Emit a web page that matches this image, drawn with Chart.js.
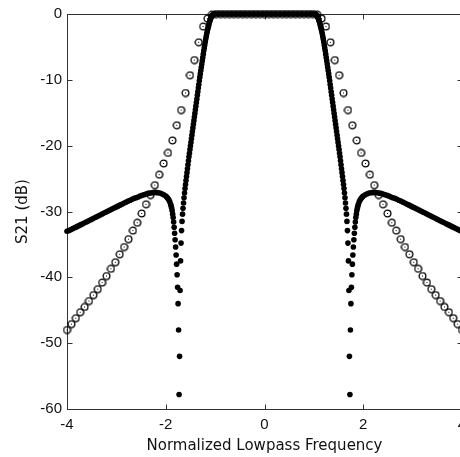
<!DOCTYPE html>
<html>
<head>
<meta charset="utf-8">
<script src="https://cdn.jsdelivr.net/npm/chart.js@4/dist/chart.umd.min.js"></script>
<style>
  html, body { margin: 0; padding: 0; background: #fff; overflow: hidden; }
  #wrap { width: 480px; height: 457px; }
</style>
</head>
<body>
<div id="wrap"><canvas id="c" width="480" height="457"></canvas></div>
<script>
// Prototype response (open circles), sampled on a coarse grid
const freqProto = [
  -4.000, -3.911, -3.822, -3.733, -3.644, -3.556, -3.467, -3.378, -3.289, -3.200,
  -3.111, -3.022, -2.933, -2.844, -2.756, -2.667, -2.578, -2.489, -2.400, -2.311,
  -2.222, -2.133, -2.044, -1.956, -1.867, -1.778, -1.689, -1.600, -1.511, -1.422,
  -1.333, -1.244, -1.156, -1.067, -0.978, -0.889, -0.800, -0.711, -0.622, -0.533,
  -0.444, -0.356, -0.267, -0.178, -0.089, 0.000,
  0.089, 0.178, 0.267, 0.356, 0.444, 0.533, 0.622, 0.711, 0.800, 0.889,
  0.978, 1.067, 1.156, 1.244, 1.333, 1.422, 1.511, 1.600, 1.689, 1.778,
  1.867, 1.956, 2.044, 2.133, 2.222, 2.311, 2.400, 2.489, 2.578, 2.667,
  2.756, 2.844, 2.933, 3.022, 3.111, 3.200, 3.289, 3.378, 3.467, 3.556,
  3.644, 3.733, 3.822, 3.911, 4.000
];
const s21Proto = [
  -48.0, -47.1, -46.2, -45.3, -44.5, -43.6, -42.7, -41.8, -40.8, -39.8,
  -38.7, -37.7, -36.5, -35.4, -34.2, -32.9, -31.7, -30.3, -28.9, -27.5,
  -26.0, -24.4, -22.7, -21.1, -19.2, -16.9, -14.6, -12.0, -9.3, -7.0,
  -4.3, -1.9, -0.7, -0.1, 0, 0, 0, 0, 0, 0,
  0, 0, 0, 0, 0, 0,
  0, 0, 0, 0, 0, 0, 0, 0, 0, 0,
  0, -0.1, -0.7, -1.9, -4.3, -7.0, -9.3, -12.0, -14.6, -16.9,
  -19.2, -21.1, -22.7, -24.4, -26.0, -27.5, -28.9, -30.3, -31.7, -32.9,
  -34.2, -35.4, -36.5, -37.7, -38.7, -39.8, -40.8, -41.8, -42.7, -43.6,
  -44.5, -45.3, -46.2, -47.1, -48.0
];

// Filter with transmission zeros (small filled dots), finer grid on the skirts
const freqFilter = [
  -4.00, -3.96, -3.92, -3.88, -3.84, -3.80, -3.76, -3.72, -3.68, -3.64,
  -3.60, -3.56, -3.52, -3.48, -3.44, -3.40, -3.36, -3.32, -3.28, -3.24,
  -3.20, -3.16, -3.12, -3.08, -3.04, -3.00, -2.96, -2.92, -2.88, -2.84,
  -2.80, -2.76, -2.72, -2.68, -2.64, -2.60, -2.56, -2.52, -2.48, -2.44,
  -2.40, -2.36, -2.32, -2.28, -2.24, -2.20, -2.16, -2.12, -2.08, -2.04,
  -2.00, -1.98, -1.96, -1.94, -1.92,
  -1.90, -1.89, -1.88, -1.87, -1.86, -1.85, -1.84, -1.83, -1.82, -1.81,
  -1.80, -1.79, -1.78, -1.77, -1.76, -1.75, -1.74, -1.73, -1.72, -1.71,
  -1.70, -1.69, -1.68, -1.67, -1.66, -1.65, -1.64, -1.63, -1.62, -1.61,
  -1.60, -1.59, -1.58, -1.57, -1.56, -1.55, -1.54, -1.53, -1.52, -1.51,
  -1.50, -1.49, -1.48, -1.47, -1.46, -1.45, -1.44, -1.43, -1.42, -1.41,
  -1.40, -1.39, -1.38, -1.37, -1.36, -1.35, -1.34, -1.33, -1.32, -1.31,
  -1.30, -1.29, -1.28, -1.27, -1.26, -1.25, -1.24, -1.23, -1.22, -1.21,
  -1.20, -1.19, -1.18, -1.17, -1.16, -1.15, -1.14, -1.13, -1.12, -1.11,
  -1.10, -1.09, -1.08, -1.07, -1.06, -1.05, -1.04, -1.03, -1.02, -1.01,
  -1.00,
  -0.96, -0.92, -0.88, -0.84, -0.80, -0.76, -0.72, -0.68, -0.64, -0.60,
  -0.56, -0.52, -0.48, -0.44, -0.40, -0.36, -0.32, -0.28, -0.24, -0.20,
  -0.16, -0.12, -0.08, -0.04, 0.00,
  0.04, 0.08, 0.12, 0.16, 0.20, 0.24, 0.28, 0.32, 0.36, 0.40,
  0.44, 0.48, 0.52, 0.56, 0.60, 0.64, 0.68, 0.72, 0.76, 0.80,
  0.84, 0.88, 0.92, 0.96,
  1.00, 1.01, 1.02, 1.03, 1.04, 1.05, 1.06, 1.07, 1.08, 1.09,
  1.10, 1.11, 1.12, 1.13, 1.14, 1.15, 1.16, 1.17, 1.18, 1.19,
  1.20, 1.21, 1.22, 1.23, 1.24, 1.25, 1.26, 1.27, 1.28, 1.29,
  1.30, 1.31, 1.32, 1.33, 1.34, 1.35, 1.36, 1.37, 1.38, 1.39,
  1.40, 1.41, 1.42, 1.43, 1.44, 1.45, 1.46, 1.47, 1.48, 1.49,
  1.50, 1.51, 1.52, 1.53, 1.54, 1.55, 1.56, 1.57, 1.58, 1.59,
  1.60, 1.61, 1.62, 1.63, 1.64, 1.65, 1.66, 1.67, 1.68, 1.69,
  1.70, 1.71, 1.72, 1.73, 1.74, 1.75, 1.76, 1.77, 1.78, 1.79,
  1.80, 1.81, 1.82, 1.83, 1.84, 1.85, 1.86, 1.87, 1.88, 1.89,
  1.90,
  1.92, 1.94, 1.96, 1.98, 2.00,
  2.04, 2.08, 2.12, 2.16, 2.20, 2.24, 2.28, 2.32, 2.36, 2.40,
  2.44, 2.48, 2.52, 2.56, 2.60, 2.64, 2.68, 2.72, 2.76, 2.80,
  2.84, 2.88, 2.92, 2.96, 3.00, 3.04, 3.08, 3.12, 3.16, 3.20,
  3.24, 3.28, 3.32, 3.36, 3.40, 3.44, 3.48, 3.52, 3.56, 3.60,
  3.64, 3.68, 3.72, 3.76, 3.80, 3.84, 3.88, 3.92, 3.96, 4.00
];
const s21Filter = [
  -33.0, -32.9, -32.75, -32.6, -32.45, -32.3, -32.15, -32.0, -31.85, -31.7,
  -31.55, -31.4, -31.25, -31.1, -30.95, -30.8, -30.65, -30.5, -30.35, -30.2,
  -30.05, -29.9, -29.75, -29.6, -29.45, -29.3, -29.15, -29.0, -28.85, -28.7,
  -28.55, -28.4, -28.3, -28.15, -28.0, -27.9, -27.8, -27.65, -27.55, -27.45,
  -27.35, -27.25, -27.2, -27.15, -27.1, -27.1, -27.15, -27.2, -27.3, -27.45,
  -27.65, -27.8, -28.0, -28.2, -28.5,
  -28.9, -29.2, -29.5, -29.9, -30.4, -30.9, -31.6, -32.4, -33.3, -34.3,
  -35.4, -36.6, -38.0, -39.6, -41.5, -44.0, -48.0, -57.8, -52.0, -42.0,
  -37.5, -34.8, -32.9, -31.5, -30.4, -29.5, -28.7, -27.9, -27.2, -26.5,
  -25.9, -25.3, -24.7, -24.1, -23.5, -22.9, -22.3, -21.7, -21.15, -20.6,
  -20.05, -19.5, -18.95, -18.4, -17.85, -17.3, -16.75, -16.2, -15.65, -15.1,
  -14.55, -14.0, -13.45, -12.9, -12.35, -11.8, -11.25, -10.7, -10.15, -9.6,
  -9.1, -8.6, -8.1, -7.6, -7.1, -6.6, -6.1, -5.6, -5.15, -4.7,
  -4.25, -3.8, -3.4, -3.0, -2.65, -2.3, -2.0, -1.7, -1.4, -1.15,
  -0.9, -0.7, -0.5, -0.35, -0.25, -0.15, -0.1, -0.05, 0, 0,
  0,
  0, 0, 0, 0, 0, 0, 0, 0, 0, 0,
  0, 0, 0, 0, 0, 0, 0, 0, 0, 0,
  0, 0, 0, 0, 0,
  0, 0, 0, 0, 0, 0, 0, 0, 0, 0,
  0, 0, 0, 0, 0, 0, 0, 0, 0, 0,
  0, 0, 0, 0,
  0, 0, 0, -0.05, -0.1, -0.15, -0.25, -0.35, -0.5, -0.7,
  -0.9, -1.15, -1.4, -1.7, -2.0, -2.3, -2.65, -3.0, -3.4, -3.8,
  -4.25, -4.7, -5.15, -5.6, -6.1, -6.6, -7.1, -7.6, -8.1, -8.6,
  -9.1, -9.6, -10.15, -10.7, -11.25, -11.8, -12.35, -12.9, -13.45, -14.0,
  -14.55, -15.1, -15.65, -16.2, -16.75, -17.3, -17.85, -18.4, -18.95, -19.5,
  -20.05, -20.6, -21.15, -21.7, -22.3, -22.9, -23.5, -24.1, -24.7, -25.3,
  -25.9, -26.5, -27.2, -27.9, -28.7, -29.5, -30.4, -31.5, -32.9, -34.8,
  -37.5, -42.0, -52.0, -57.8, -48.0, -44.0, -41.5, -39.6, -38.0, -36.6,
  -35.4, -34.3, -33.3, -32.4, -31.6, -30.9, -30.4, -29.9, -29.5, -29.2,
  -28.9,
  -28.5, -28.2, -28.0, -27.8, -27.65,
  -27.45, -27.3, -27.2, -27.15, -27.1, -27.1, -27.15, -27.2, -27.25, -27.35,
  -27.45, -27.55, -27.65, -27.8, -27.9, -28.0, -28.15, -28.3, -28.4, -28.55,
  -28.7, -28.85, -29.0, -29.15, -29.3, -29.45, -29.6, -29.75, -29.9, -30.05,
  -30.2, -30.35, -30.5, -30.65, -30.8, -30.95, -31.1, -31.25, -31.4, -31.55,
  -31.7, -31.85, -32.0, -32.15, -32.3, -32.45, -32.6, -32.75, -32.9, -33.0
];

const xTickValues = [-4, -2, 0, 2, 4];
const yTickValues = [-60, -50, -40, -30, -20, -10, 0];

const toPoints = (xs, ys) => xs.map((v, i) => ({ x: v, y: ys[i] }));

// Open circle marker with a centre pixel
function ringMarker() {
  const c = document.createElement('canvas');
  c.width = 9; c.height = 9;
  const g = c.getContext('2d');
  g.strokeStyle = '#000';
  g.lineWidth = 1.3;
  g.beginPath();
  g.arc(4.5, 4.5, 3.4, 0, Math.PI * 2);
  g.stroke();
  g.fillStyle = '#000';
  g.fillRect(4, 4, 1, 1);
  return c;
}

// Box with inward tick marks on all four sides
const boxFrame = {
  id: 'boxFrame',
  beforeDatasetsDraw(chart) {
    const { ctx, chartArea: a, scales: { x, y } } = chart;
    const len = 5;
    ctx.save();
    ctx.strokeStyle = '#333';
    ctx.lineWidth = 1;
    const L = Math.round(a.left) + 0.5, R = Math.round(a.right) + 0.5;
    const T = Math.round(a.top) + 0.5, B = Math.round(a.bottom) + 0.5;
    ctx.beginPath();
    ctx.rect(L, T, R - L, B - T);
    xTickValues.forEach(v => {
      const px = Math.round(x.getPixelForValue(v)) + 0.5;
      ctx.moveTo(px, B); ctx.lineTo(px, B - len);
      ctx.moveTo(px, T); ctx.lineTo(px, T + len);
    });
    yTickValues.forEach(v => {
      const py = Math.round(y.getPixelForValue(v)) + 0.5;
      ctx.moveTo(L, py); ctx.lineTo(L + len, py);
      ctx.moveTo(R, py); ctx.lineTo(R - len, py);
    });
    ctx.stroke();
    ctx.restore();
  }
};

const tickFont = { family: 'Liberation Sans', size: 15 };
const titleFont = { family: 'DejaVu Sans', size: 15 };

new Chart(document.getElementById('c'), {
  type: 'scatter',
  data: {
    datasets: [
      {
        data: toPoints(freqFilter, s21Filter),
        pointRadius: 2.8,
        pointBorderWidth: 0,
        pointBackgroundColor: '#000',
        showLine: false,
        clip: false
      },
      {
        data: toPoints(freqProto, s21Proto),
        pointStyle: ringMarker(),
        pointRadius: 4,
        showLine: false,
        clip: false
      }
    ]
  },
  options: {
    responsive: false,
    animation: false,
    events: [],
    layout: { padding: { top: 13, right: 18, bottom: 0, left: 0 } },
    plugins: { legend: { display: false }, tooltip: { enabled: false } },
    scales: {
      x: {
        type: 'linear',
        min: -4, max: 4,
        afterBuildTicks: s => { s.ticks = xTickValues.map(v => ({ value: v })); },
        afterFit: s => { s.height = 48; },
        grid: { display: false, drawTicks: false },
        border: { display: false },
        ticks: { font: tickFont, color: '#111', padding: 7, maxRotation: 0 },
        title: { display: true, text: 'Normalized Lowpass Frequency', font: titleFont, color: '#111', padding: { top: 0, bottom: 2 } }
      },
      y: {
        type: 'linear',
        min: -60, max: 0,
        afterBuildTicks: s => { s.ticks = yTickValues.map(v => ({ value: v })); },
        afterFit: s => { s.width = 67; },
        grid: { display: false, drawTicks: false },
        border: { display: false },
        ticks: { font: tickFont, color: '#111', padding: 5 },
        title: { display: true, text: 'S21 (dB)', font: titleFont, color: '#111', padding: { top: 14, bottom: 0 } }
      }
    }
  },
  plugins: [boxFrame]
});
</script>
</body>
</html>
